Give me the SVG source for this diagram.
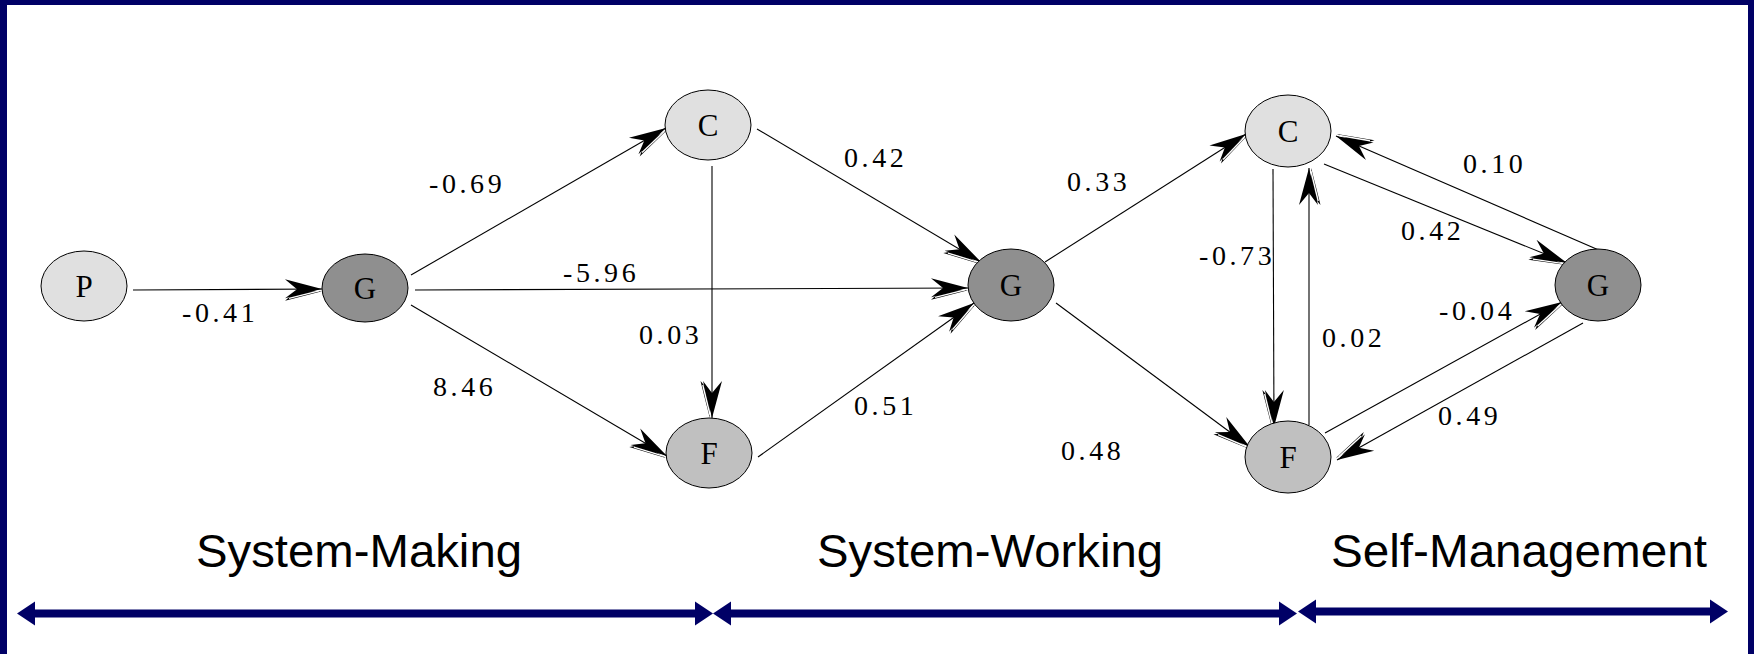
<svg xmlns="http://www.w3.org/2000/svg" width="1754" height="654" viewBox="0 0 1754 654">
  <style>
    .node ellipse { stroke: #000; stroke-width: 1; }
    .node text { font-family: "Liberation Serif", "Times New Roman", serif; font-size: 31px; text-anchor: middle; fill: #000; }
    .light { fill: #e0e0e0; }
    .mid { fill: #c0c0c0; }
    .dark { fill: #8f8f8f; }
    .edge { stroke: #000; stroke-width: 1.1; fill: none; marker-end: url(#ah); }
    .wt { font-family: "Liberation Serif", "Times New Roman", serif; font-size: 28px; letter-spacing: 3.6px; fill: #000; }
    .phase { font-family: "Liberation Sans", Arial, sans-serif; font-size: 47px; fill: #000; }
    .band { stroke: #000066; stroke-width: 8; }
  </style>
  <defs>
    <!-- barbed arrowhead drawn twice (solid plus offset outline) for a raised look -->
    <marker id="ah" viewBox="-40 -13 42 26" refX="0" refY="0" markerWidth="42" markerHeight="26" markerUnits="userSpaceOnUse" orient="auto" overflow="visible">
      <path d="M0,2.2 L-37,11.5 L-26,2.2 Z" fill="#000"/>
      <path d="M0,0 L-37,-10 L-25,0 L-37,9 Z" fill="#000"/>
      <path d="M-3,1.9 L-33,9.2" stroke="#fff" stroke-width="1.4"/>
    </marker>
    <path id="headL" d="M0,0 L18,-12 L18,12 Z" fill="#000066"/>
    <path id="headR" d="M0,0 L-18,-12 L-18,12 Z" fill="#000066"/>
  </defs>

  <!-- background and frame -->
  <rect x="0" y="0" width="1754" height="654" fill="#fff"/>
  <rect x="0" y="0" width="1754" height="5" fill="#000066"/>
  <rect x="0" y="0" width="7" height="654" fill="#000066"/>
  <rect x="1748" y="0" width="6" height="654" fill="#000066"/>

  <!-- connectors -->
  <g id="connectors">
    <line class="edge" x1="133" y1="290" x2="322" y2="289"/>
    <line class="edge" x1="411" y1="275" x2="666" y2="128"/>
    <line class="edge" x1="415" y1="290" x2="968" y2="288"/>
    <line class="edge" x1="411" y1="305" x2="667" y2="456"/>
    <line class="edge" x1="712" y1="166" x2="712" y2="418"/>
    <line class="edge" x1="757" y1="129" x2="981" y2="262"/>
    <line class="edge" x1="758" y1="457" x2="974" y2="303"/>
    <line class="edge" x1="1045" y1="262" x2="1246" y2="134"/>
    <line class="edge" x1="1056" y1="303" x2="1250" y2="447"/>
    <line class="edge" x1="1273" y1="169" x2="1274" y2="427"/>
    <line class="edge" x1="1309" y1="425" x2="1309" y2="168"/>
    <line class="edge" x1="1324" y1="164" x2="1567" y2="263"/>
    <line class="edge" x1="1601" y1="251" x2="1336" y2="136"/>
    <line class="edge" x1="1325" y1="433" x2="1562" y2="302"/>
    <line class="edge" x1="1583" y1="323" x2="1337" y2="460"/>

    <!-- path coefficients -->
    <text class="wt" x="182" y="322">-0.41</text>
    <text class="wt" x="429" y="193">-0.69</text>
    <text class="wt" x="563" y="282">-5.96</text>
    <text class="wt" x="433" y="396">8.46</text>
    <text class="wt" x="639" y="344">0.03</text>
    <text class="wt" x="844" y="167">0.42</text>
    <text class="wt" x="854" y="415">0.51</text>
    <text class="wt" x="1067" y="191">0.33</text>
    <text class="wt" x="1061" y="460">0.48</text>
    <text class="wt" x="1199" y="265">-0.73</text>
    <text class="wt" x="1322" y="347">0.02</text>
    <text class="wt" x="1463" y="173">0.10</text>
    <text class="wt" x="1401" y="240">0.42</text>
    <text class="wt" x="1439" y="320">-0.04</text>
    <text class="wt" x="1438" y="425">0.49</text>
  </g>

  <!-- nodes -->
  <g id="node-P" class="node">
    <ellipse class="light" cx="84" cy="286" rx="43" ry="35"/>
    <text x="84" y="297">P</text>
  </g>
  <g id="node-G1" class="node">
    <ellipse class="dark" cx="365" cy="288" rx="43" ry="34"/>
    <text x="365" y="299">G</text>
  </g>
  <g id="node-C1" class="node">
    <ellipse class="light" cx="708" cy="125" rx="43" ry="35"/>
    <text x="708" y="136">C</text>
  </g>
  <g id="node-F1" class="node">
    <ellipse class="mid" cx="709" cy="453" rx="43" ry="35"/>
    <text x="709" y="464">F</text>
  </g>
  <g id="node-G2" class="node">
    <ellipse class="dark" cx="1011" cy="285" rx="43" ry="36"/>
    <text x="1011" y="296">G</text>
  </g>
  <g id="node-C2" class="node">
    <ellipse class="light" cx="1288" cy="131" rx="43" ry="36"/>
    <text x="1288" y="142">C</text>
  </g>
  <g id="node-F2" class="node">
    <ellipse class="mid" cx="1288" cy="457" rx="43" ry="36"/>
    <text x="1288" y="468">F</text>
  </g>
  <g id="node-G3" class="node">
    <ellipse class="dark" cx="1598" cy="285" rx="43" ry="36"/>
    <text x="1598" y="296">G</text>
  </g>

  <!-- phase labels -->
  <g id="phases">
    <text class="phase" x="196" y="567" textLength="326" lengthAdjust="spacingAndGlyphs">System-Making</text>
    <text class="phase" x="817" y="567" textLength="346" lengthAdjust="spacingAndGlyphs">System-Working</text>
    <text class="phase" x="1331" y="567" textLength="376" lengthAdjust="spacingAndGlyphs">Self-Management</text>
  </g>

  <!-- phase span arrows -->
  <g id="spans">
    <line class="band" x1="34" y1="613.5" x2="697" y2="613.5"/>
    <use href="#headL" x="17" y="613.5"/>
    <use href="#headR" x="713" y="613.5"/>
    <line class="band" x1="729" y1="613.5" x2="1279" y2="613.5"/>
    <use href="#headL" x="713" y="613.5"/>
    <use href="#headR" x="1297" y="613.5"/>
    <line class="band" x1="1316" y1="611.5" x2="1710" y2="611.5"/>
    <use href="#headL" x="1298" y="611.5"/>
    <use href="#headR" x="1728" y="611.5"/>
  </g>
</svg>
